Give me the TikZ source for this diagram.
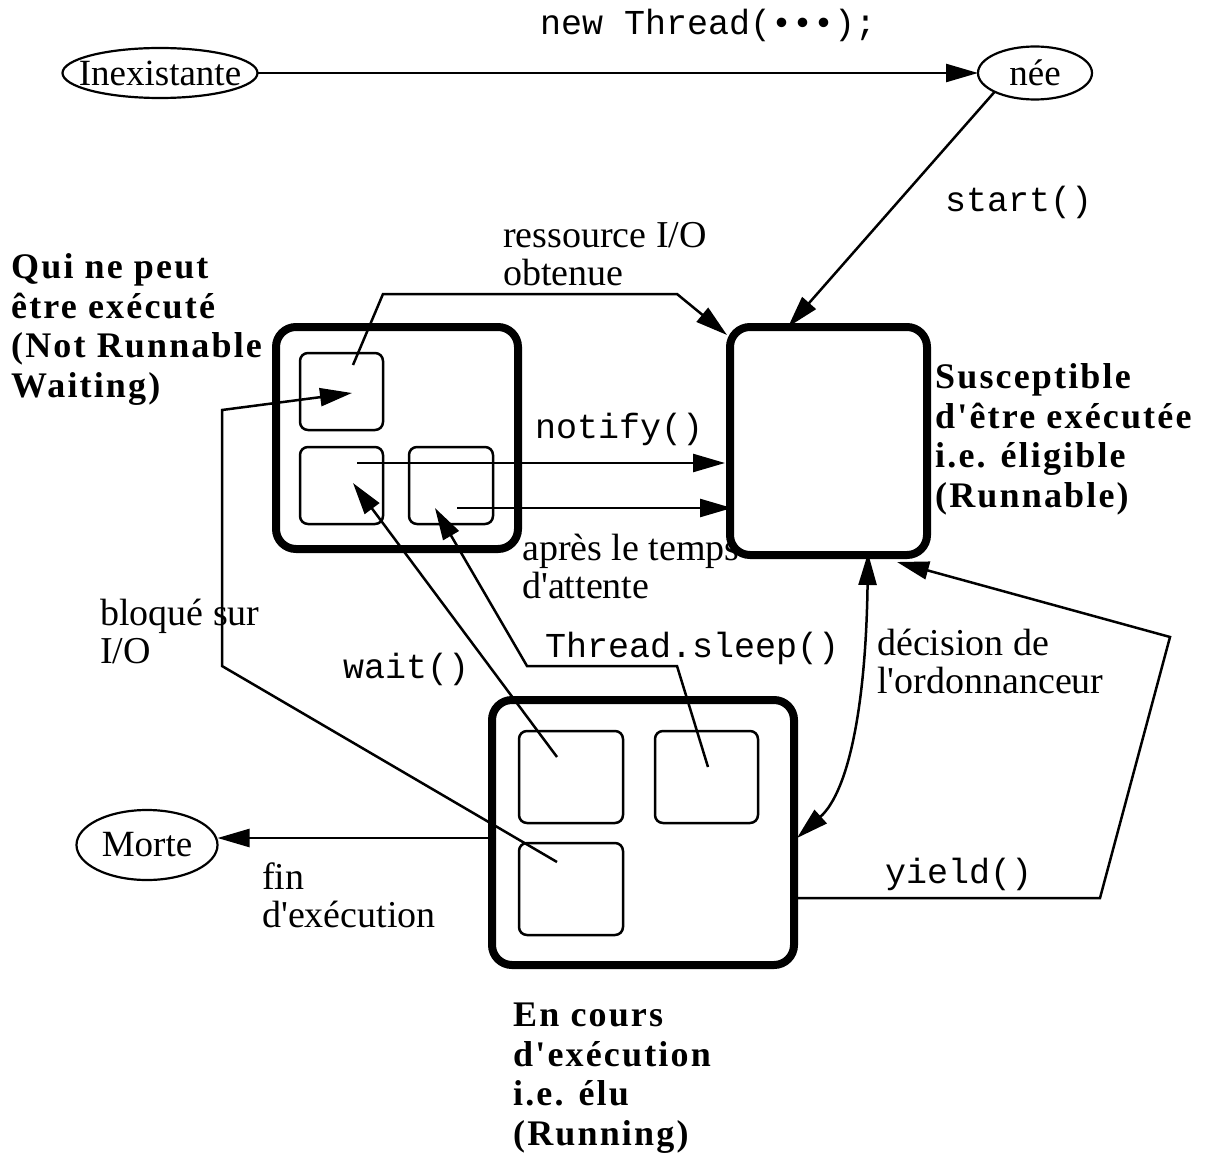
\documentclass[tikz,border=0pt]{standalone}
\usepackage{fontspec}
\setmainfont{Liberation Serif}[Ligatures=TeXOff]
\setmonofont{Liberation Mono}
\newfontfamily\boldlab{Liberation Serif}[LetterSpace=6]
\usetikzlibrary{arrows.meta,shapes.geometric}
\begin{document}
\begin{tikzpicture}[x=1pt,y=-1pt,
  big/.style={draw, line width=8pt, rounded corners=20pt, inner sep=0pt, outer sep=0pt},
  small/.style={draw, line width=2.5pt, rounded corners=8pt, inner sep=0pt, outer sep=0pt},
  state/.style={draw, ellipse, line width=2.2pt, inner sep=0pt, outer sep=0pt, font=\fontsize{37}{38}\selectfont},
  conn/.style={line width=2.5pt, -{Triangle[length=32pt,width=18pt]}},
  both/.style={line width=2.5pt, {Triangle[length=32pt,width=18pt]}-{Triangle[length=32pt,width=18pt]}},
  lab/.style={inner sep=0pt, anchor=base west, align=left, font=\fontsize{38}{38}\selectfont},
  code/.style={inner sep=0pt, anchor=base west, font=\ttfamily\fontsize{35}{36}\selectfont},
  title/.style={inner sep=0pt, anchor=base west, align=left, font=\boldlab\bfseries\fontsize{36}{39.5}\selectfont},
]
\useasboundingbox (0,0) rectangle (1221,1153);

% titles (anchor = baseline of last line)
\node[title] (tw) at (11,397) {Qui ne peut\\être exécuté\\(Not Runnable\\Waiting)};
\node[title] (tr) at (935,507) {Susceptible\\d'être exécutée\\i.e. éligible\\(Runnable)};
\node[title] (te) at (513,1145) {En cours\\d'exécution\\i.e. élu\\(Running)};

% states
\node[state, minimum width=195pt, minimum height=50pt, inner xsep=-14pt] (inex) at (160,73) {Inexistante};
\node[state, minimum width=114pt, minimum height=53pt] (nee) at (1035,73) {née};
\node[state, minimum width=141pt, minimum height=70pt] (morte) at (147,845) {Morte};

% big boxes
\node[big, minimum width=242pt, minimum height=222pt] (wbox) at (397,438) {};
\node[big, minimum width=197pt, minimum height=228pt] (rbox) at (828.5,441) {};
\node[big, minimum width=302pt, minimum height=265pt] (ebox) at (643,832.5) {};

% inner boxes
\node[small, minimum width=83pt, minimum height=77pt] (w1) at (341.5,391.5) {};
\node[small, minimum width=83pt, minimum height=77pt] (w2) at (341.5,485.5) {};
\node[small, minimum width=84pt, minimum height=77pt] (w3) at (451,485.5) {};
\node[small, minimum width=104pt, minimum height=92pt] (e1) at (571,777) {};
\node[small, minimum width=104pt, minimum height=92pt] (e2) at (571,889) {};
\node[small, minimum width=103pt, minimum height=92pt] (e3) at (706.5,777) {};

% connector points
\coordinate (resS) at (353,365);
\coordinate (resA) at (383,294);
\coordinate (resB) at (677,294);
\coordinate (resT) at (727,335);
\coordinate (startT) at (788,327);
\coordinate (bloS) at (557,862);
\coordinate (bloA) at (222,666);
\coordinate (bloB) at (222,410);
\coordinate (bloT) at (352,393);
\coordinate (notS) at (357,463);
\coordinate (notT) at (725,463);
\coordinate (apS) at (457,508);
\coordinate (apT) at (732,508);
\coordinate (waS) at (557,757);
\coordinate (waT) at (353,483);
\coordinate (slS) at (708,767);
\coordinate (slA) at (677,666);
\coordinate (slB) at (527,666);
\coordinate (slT) at (435,508);
\coordinate (decT) at (868,553);
\coordinate (decE) at (797,838);
\coordinate (yiS) at (794,898);
\coordinate (yiA) at (1100,898);
\coordinate (yiB) at (1170,637);
\coordinate (yiT) at (897,562);
\coordinate (finS) at (496,838);

% connectors
\draw[conn] (inex.east) -- (nee.west);
\draw[conn] (nee.south west) -- (startT);
\draw[conn] (resS) -- (resA) -- (resB) -- (resT);
\draw[conn] (bloS) -- (bloA) -- (bloB) -- (bloT);
\draw[conn] (notS) -- (notT);
\draw[conn] (apS) -- (apT);
\draw[conn] (waS) -- (waT);
\draw[conn] (slS) -- (slA) -- (slB) -- (slT);
\draw[both] (decT) .. controls (866,700) and (850,790) .. (decE);
\draw[conn] (yiS) -- (yiA) -- (yiB) -- (yiT);
\draw[conn] (finS) -- (finS -| morte.east);

% labels (multi-line: anchor = baseline of last line)
\node[code] (lnew) at (540,35) {new Thread(•••);};
\node[code] (lstart) at (945,211) {start()};
\node[lab] (lres) at (503,285) {ressource I/O\\obtenue};
\node[code] (lnot) at (535,438) {notify()};
\node[lab] (lap) at (522,598) {après le temps\\d'attente};
\node[code] (lsl) at (545,657) {Thread.sleep()};
\node[code] (lwa) at (343,678) {wait()};
\node[lab] (lblo) at (100,663) {bloqué sur\\I/O};
\node[lab] (ldec) at (877,693) {décision de\\l'ordonnanceur};
\node[code] (lyi) at (885,883) {yield()};
\node[lab] (lfin) at (262,927) {fin\\d'exécution};
\end{tikzpicture}
\end{document}
